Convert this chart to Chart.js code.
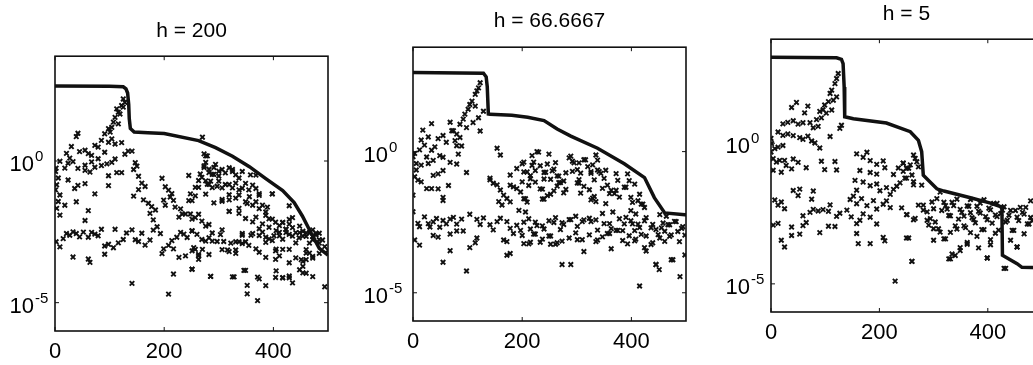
<!DOCTYPE html>
<html>
<head>
<meta charset="utf-8">
<script src="https://cdn.jsdelivr.net/npm/chart.js@4.4.1/dist/chart.umd.min.js"></script>
<style>
html, body { margin: 0; padding: 0; background: #fff; overflow: hidden; }
body { width: 1033px; height: 365px; position: relative; }
.panel { position: absolute; top: 0; height: 365px; }
</style>
</head>
<body>
<div class="panel" style="left:0;width:340px"><canvas id="chartH200"></canvas></div>
<div class="panel" style="left:345px;width:350px"><canvas id="chartH66"></canvas></div>
<div class="panel" style="left:700px;width:350px"><canvas id="chartH5"></canvas></div>
<script>
"use strict";

var titles = ['h = 200', 'h = 66.6667', 'h = 5'];
var xTicks = [0, 200, 400];
var yTicks = [1e-5, 1];

// all pairs below are [x, log10(y)]

var h200Line = [
    [0, 2.65], [100, 2.64], [125, 2.62], [130, 2.55], [133, 2.4], [135, 2.0], [136, 1.5], [138, 1.15],
    [145, 1.02], [170, 1.0], [200, 0.97], [263, 0.72], [294, 0.47], [325, 0.17], [356, -0.2],
    [386, -0.62], [417, -1.04], [438, -1.47], [453, -1.94], [469, -2.54], [484, -3.08], [500, -3.32]
];

var h200Dots = [
    [125, 2.19], [128, 2.07], [122, 1.96], [116, 1.72], [110, 1.54], [107, 1.37], [104, 1.19], [98, 1.14],
    [91, 0.96], [113, 1.84], [119, 1.66], [125, 1.9], [116, 1.31], [101, 1.02],
    [42, 0.98], [39, 0.86], [30, 0.51], [21, 0.27], [27, 0.1], [45, 0.33], [55, 0.38], [61, 0.26],
    [67, 0.2], [73, 0.55], [79, 0.49], [85, 0.73], [91, 0.31], [79, 0.08], [67, -0.03], [55, -0.15],
    [42, -0.26], [33, -0.02], [24, -0.08], [18, -0.25], [9, -0.01], [2, -0.25], [1, -0.37], [6, -0.6],
    [3, -0.84], [1, -1.02], [9, -1.2], [6, -1.43], [3, -1.67], [9, -1.91], [18, -1.56], [24, -0.67],
    [36, -0.97], [42, -0.86], [55, -0.33], [64, -0.39], [73, -0.22], [85, -0.16], [95, -0.1], [104, -0.05],
    [110, 0.07], [98, 0.66], [104, 0.78], [110, 0.6], [122, 0.65], [128, 0.24], [134, 0.35], [141, 0.35],
    [98, -0.52], [113, -0.41], [122, -0.41], [98, -0.87], [55, -0.8], [73, -1.16], [61, -1.75], [55, -2.1],
    [39, -1.44],
    [147, -0.06], [144, -0.3], [150, -0.18], [153, -0.54], [159, -0.78], [165, -0.9], [153, -1.01], [144, -1.24],
    [162, -1.37], [171, -1.49], [177, -1.61], [184, -1.73], [174, -1.85], [180, -2.08], [196, -0.61], [202, -0.91],
    [208, -1.03], [214, -1.15], [199, -1.38], [202, -1.56], [211, -1.27], [217, -1.39], [220, -1.63], [230, -1.69],
    [233, -1.87], [227, -1.98], [239, -1.87], [248, -1.87], [251, -2.05], [263, -1.88], [245, -1.4], [248, -1.16],
    [257, -0.93], [263, -0.69], [266, -0.46], [273, -0.23], [276, -0.05], [282, -0.29], [288, -0.47], [291, -0.23],
    [294, -0.12], [300, -0.36], [306, -0.3], [319, -0.24], [325, -0.3], [331, -0.49], [276, -0.7], [282, -0.82],
    [288, -0.94], [300, -0.71], [312, -0.83], [325, -0.95], [337, -1.02], [319, -1.19], [331, -1.31], [306, -1.42],
    [319, -1.78], [337, -1.67], [349, -1.44], [362, -1.56], [374, -1.68], [386, -1.8], [398, -1.16], [374, -1.15],
    [356, -1.26], [349, -0.79], [362, -0.85], [368, -0.97], [386, -1.92], [392, -2.04], [368, -0.5], [337, -0.6],
    [270, 0.84], [279, 0.18], [245, -0.51], [276, -1.17], [273, 0.25],
    [2, -2.85], [9, -3.03], [15, -2.74], [21, -2.56], [27, -2.62], [33, -2.5], [39, -2.56], [45, -2.68],
    [52, -2.51], [61, -2.69], [67, -2.52], [73, -2.58], [79, -2.64], [85, -2.41], [91, -3.0], [98, -2.94],
    [107, -3.06], [116, -2.89], [125, -2.77], [131, -2.54], [110, -2.41], [141, -2.43], [147, -2.78], [153, -2.84],
    [159, -2.55], [165, -2.97], [174, -2.79], [180, -2.44], [187, -2.32], [193, -2.56], [199, -3.1], [208, -2.98],
    [214, -2.81], [217, -3.1], [223, -2.69], [230, -2.52], [236, -2.58], [242, -2.7], [251, -2.47], [257, -3.12],
    [263, -3.3], [270, -3.12], [276, -2.83], [282, -2.71], [288, -2.54], [297, -2.84], [303, -2.6], [316, -3.14],
    [322, -2.9], [331, -3.14], [337, -2.85], [343, -2.62], [349, -2.85], [359, -2.62], [368, -3.1], [374, -2.63],
    [380, -2.51], [386, -2.87], [392, -2.75], [401, -2.64], [404, -3.17], [411, -2.52], [417, -2.76], [423, -2.41],
    [429, -2.23], [435, -2.65], [441, -2.89], [448, -2.53], [454, -2.65], [460, -3.13], [466, -2.9], [472, -2.66],
    [478, -2.55], [484, -2.9], [490, -2.79], [494, -3.02], [500, -3.15],
    [404, -2.16], [417, -2.17], [429, -2.06], [435, -2.0], [423, -2.53], [448, -2.3], [460, -2.54], [472, -2.43],
    [484, -2.55], [466, -3.25], [451, -3.48], [454, -3.72], [460, -3.48], [472, -3.37], [484, -3.26],
    [33, -3.39], [61, -3.46], [64, -3.58], [141, -4.32], [208, -4.7], [217, -3.99], [251, -3.82], [285, -4.07],
    [328, -4.09], [349, -3.86], [352, -4.39], [352, -4.69], [371, -4.93], [371, -4.1], [386, -4.4], [404, -4.11],
    [417, -4.12], [429, -4.12], [435, -4.3], [448, -3.84], [460, -3.96], [472, -4.08], [494, -4.44], [263, -3.47],
    [227, -3.4], [239, -3.35], [196, -3.27], [91, -3.29], [429, -3.59], [411, -3.35], [404, -3.47],
    [276, 0.18], [273, -0.17], [282, -0.41], [291, -0.47], [285, -0.71], [300, -0.53], [312, -0.42], [325, -0.37],
    [343, -0.37], [358, -0.49], [269, -0.58], [263, -0.93], [279, -0.82], [297, -0.89], [306, -0.95], [319, -0.83],
    [331, -0.78], [343, -0.96], [355, -1.02], [374, -1.21], [398, -1.16], [251, -1.4], [257, -1.23], [291, -1.48],
    [306, -1.36], [319, -1.37], [337, -1.2], [352, -1.5], [368, -1.44], [380, -1.56], [389, -1.63], [429, -1.58],
    [257, -2.0], [269, -2.12], [282, -2.24], [251, -2.46], [260, -2.59], [276, -2.3], [306, -2.43], [319, -1.78],
    [337, -1.85], [349, -2.03], [362, -2.15], [368, -1.98], [380, -2.22], [392, -2.34], [398, -2.05], [405, -2.46],
    [411, -2.28], [417, -2.17], [423, -2.41], [429, -2.59], [435, -2.35], [441, -2.53], [447, -2.71], [454, -2.48],
    [460, -2.66], [466, -2.54], [472, -2.78], [478, -2.61], [484, -2.78], [343, -2.56], [362, -2.56], [374, -2.39],
    [386, -2.69], [398, -2.81], [411, -2.64], [331, -2.85], [309, -2.84], [288, -2.83], [269, -2.77], [254, -3.06],
    [251, -3.17], [263, -3.35], [282, -3.3], [306, -3.13], [319, -3.2], [331, -3.26], [343, -2.91], [355, -2.98],
    [374, -3.22], [386, -3.4], [405, -3.11], [417, -3.12], [429, -3.12], [441, -3.42], [454, -3.54], [460, -3.25],
    [472, -3.43], [251, -3.82], [285, -4.07], [325, -4.09], [346, -3.86], [374, -4.16], [405, -3.88], [417, -4.12],
    [429, -4.06], [454, -3.95]
];

var h66Line = [
    [0, 2.8], [129, 2.78], [134, 2.65], [136, 2.3], [138, 1.33], [141, 1.32], [181, 1.29], [210, 1.22],
    [240, 1.1], [264, 0.8], [289, 0.55], [338, 0.12], [387, -0.43], [424, -0.92], [442, -1.63],
    [461, -2.17], [498, -2.24], [500, -2.24]
];

var h66Dots = [
    [123, 2.44], [120, 2.26], [114, 2.03], [117, 2.15], [108, 1.79], [104, 1.67], [101, 1.5], [114, 1.61],
    [95, 1.33], [92, 1.15], [86, 0.97], [98, 0.85], [110, 1.03], [120, 1.2], [123, 0.73], [129, 1.43],
    [80, 0.62], [74, 0.74],
    [34, 0.99], [18, 0.76], [15, 0.41], [21, 0.23], [28, 0.52], [34, 0.05], [40, 0.17], [46, 0.46],
    [55, 0.57], [61, 0.33], [68, 1.04], [71, 0.74], [77, 0.39], [80, 0.21], [86, 0.5], [89, 0.2],
    [83, -0.09], [55, -0.2], [49, -0.14], [37, -0.31], [25, -0.19], [12, 0.06], [3, -0.06], [0, -0.18],
    [6, -0.42], [15, -0.48], [28, -0.42], [37, -0.84], [46, -0.79], [55, -0.67], [68, -0.38], [80, -0.44],
    [98, -0.74], [6, -0.65], [3, -0.89], [9, -1.01], [15, -1.07], [25, -1.31], [34, -1.31], [46, -1.32],
    [55, -1.62], [65, -1.2], [0, -1.54], [55, -1.73],
    [0, -2.13], [9, -2.54], [12, -2.66], [3, -3.13], [12, -3.31], [21, -2.31], [28, -2.55], [31, -2.67],
    [37, -2.49], [43, -2.37], [49, -2.68], [55, -2.44], [61, -2.56], [68, -2.39], [74, -2.33], [80, -2.57],
    [89, -2.39], [37, -2.97], [46, -3.03], [68, -2.92], [80, -2.81], [92, -2.81], [104, -2.22], [117, -2.4],
    [123, -2.58], [129, -2.35], [104, -3.4], [114, -3.23], [117, -3.06], [98, -4.23], [55, -3.92], [68, -3.51],
    [154, 0.12], [160, -0.12], [141, -0.94], [147, -1.12], [154, -1.18], [160, -1.36], [166, -1.54], [172, -1.66],
    [157, -1.77], [163, -1.89], [178, -1.19], [184, -1.25], [190, -1.31], [197, -1.43], [178, -0.83], [190, -0.6],
    [203, -0.37], [209, -0.72], [215, -0.96], [227, 0.0], [233, -0.5], [240, -0.74], [240, -0.97], [233, -1.32],
    [240, -1.68], [246, -1.56], [252, -0.98], [258, -0.62], [264, -0.86], [270, -1.1], [276, -1.04], [264, -1.22],
    [258, -1.39], [276, -1.46], [289, -0.16], [295, -0.4], [301, -0.64], [307, -0.76], [313, -0.29], [320, -0.53],
    [326, -0.71], [332, -1.0], [338, -0.65], [344, -0.77], [350, -0.95], [356, -1.19], [363, -1.37], [369, -1.49],
    [326, -1.71], [332, -1.59], [313, -1.23], [301, -1.11], [375, -1.02], [387, -1.26], [393, -0.79], [399, -1.62],
    [412, -1.74], [418, -1.86], [424, -1.98], [399, -2.09], [406, -1.15], [338, -0.3], [221, -0.37], [203, -1.67],
    [209, -1.79], [215, -0.85], [178, -1.78], [141, -1.0],
    [141, -2.59], [147, -2.77], [154, -2.48], [160, -2.36], [172, -2.48], [178, -2.72], [184, -2.9], [166, -3.13],
    [172, -3.19], [190, -2.61], [197, -2.79], [203, -2.5], [215, -2.74], [221, -2.92], [227, -2.62], [240, -2.74],
    [252, -2.99], [258, -2.51], [270, -2.76], [276, -2.58], [289, -2.41], [301, -2.65], [313, -2.42], [326, -2.48],
    [338, -2.78], [350, -2.55], [356, -2.9], [363, -2.73], [375, -2.79], [387, -2.56], [399, -2.45], [406, -2.8],
    [412, -2.57], [418, -2.93], [424, -2.45], [436, -2.7], [449, -2.94], [455, -2.7], [461, -2.82], [467, -2.59],
    [473, -2.95], [479, -2.47], [485, -2.83], [492, -2.72], [498, -2.96], [424, -3.4], [436, -3.29], [203, -3.26],
    [215, -3.21], [233, -3.21], [252, -3.28], [264, -3.23], [301, -3.12], [313, -3.54], [338, -3.13], [363, -3.44],
    [393, -3.27], [406, -3.16], [461, -3.18],
    [172, -3.67], [178, -3.61], [289, -4.0], [415, -4.76], [445, -4.0], [451, -4.18], [473, -3.83], [489, -4.43],
    [498, -3.66],
    [218, -0.14], [230, -0.02], [249, -0.09], [200, -0.43], [218, -0.49], [246, -0.44], [261, -0.39], [286, -0.22],
    [292, -0.34], [304, -0.4], [316, -0.29], [335, -0.12], [329, -0.47], [203, -0.72], [224, -0.67], [243, -0.73],
    [255, -0.68], [267, -0.87], [280, -0.75], [292, -0.7], [304, -0.99], [326, -0.77], [341, -0.71], [353, -0.66],
    [372, -0.78], [200, -1.07], [212, -1.2], [224, -1.08], [237, -1.33], [252, -1.51], [267, -1.1], [280, -1.34],
    [304, -1.11], [323, -1.35], [347, -1.3], [360, -1.49], [372, -1.37], [390, -1.26], [378, -1.61], [335, -1.77],
    [353, -1.84], [329, -1.65], [206, -1.67], [237, -1.68], [307, -1.47], [396, -1.03], [415, -1.51], [421, -1.86],
    [402, -1.8],
    [194, -2.08], [206, -2.14], [212, -2.38], [224, -2.5], [237, -2.63], [249, -2.45], [261, -2.34], [273, -2.52],
    [286, -2.41], [298, -2.29], [310, -2.48], [323, -2.36], [335, -2.42], [347, -2.19], [360, -2.55], [366, -2.14],
    [378, -2.38], [384, -2.8], [390, -2.33], [402, -2.56], [408, -2.21], [415, -2.69], [427, -2.34], [439, -2.58],
    [445, -2.76], [458, -2.53], [470, -2.59], [482, -2.48], [494, -2.66], [452, -2.23], [464, -2.29],
    [200, -2.97], [212, -3.27], [224, -2.92], [237, -3.1], [249, -2.99], [261, -3.28], [273, -3.17], [286, -3.06],
    [298, -2.88], [310, -3.12], [323, -2.95], [335, -3.19], [347, -3.02], [360, -2.9], [372, -2.79], [384, -3.15],
    [396, -2.98], [408, -3.1], [427, -2.99], [439, -3.23], [452, -3.06], [470, -3.0], [488, -3.19], [427, -3.52],
    [445, -4.0], [476, -3.83], [273, -4.0]
];

var h5Line = [
    [0, 3.06], [121, 3.04], [130, 2.98], [133, 2.83], [135, 2.0], [136, 0.94], [152, 0.87], [213, 0.72],
    [257, 0.41], [272, 0.1], [278, -0.3], [281, -1.14], [306, -1.62], [319, -1.7], [368, -1.94],
    [405, -2.13], [426, -2.27], [427, -3.98], [454, -4.28], [463, -4.41], [500, -4.43]
];

var h5Dots = [
    [124, 2.48], [121, 2.3], [118, 2.12], [112, 1.89], [109, 1.77], [121, 1.65], [115, 1.53], [106, 1.48],
    [99, 1.36], [96, 1.19], [90, 1.13], [102, 1.07], [112, 1.18], [93, 0.9], [84, 0.84], [72, 0.73],
    [87, 0.6], [78, 0.55], [130, 0.64], [127, 0.53], [109, 0.24], [62, 1.08], [68, 1.32], [47, 1.45],
    [38, 1.27],
    [22, 0.69], [31, 0.74], [41, 0.8], [50, 0.68], [59, 0.73], [13, 0.4], [22, 0.28], [31, 0.33],
    [41, 0.27], [53, 0.2], [59, 0.14], [68, 0.25], [75, 0.08], [81, 0.01], [90, -0.17], [0, 0.17],
    [1, -0.01], [7, -0.19], [13, -0.14], [22, -0.08], [0, -0.31], [4, -0.55], [10, -0.67], [25, -0.61],
    [16, -0.61], [41, -0.56], [50, -0.68], [28, -0.79], [38, -0.91], [65, -0.87], [93, -0.64], [99, -0.94],
    [118, -0.65], [121, -0.95], [4, -0.96], [19, -1.03],
    [7, -2.02], [13, -2.2], [19, -2.09], [25, -2.33], [4, -2.91], [13, -2.85], [19, -3.45], [25, -3.69],
    [41, -1.68], [53, -1.63], [50, -1.86], [78, -1.7], [38, -2.98], [53, -3.23], [38, -3.28], [65, -2.82],
    [59, -2.58], [72, -2.46], [78, -2.35], [87, -2.41], [96, -2.36], [75, -1.99], [90, -3.18], [59, -2.93],
    [106, -2.42], [109, -2.19], [121, -2.6], [127, -2.49], [118, -2.96], [106, -2.95],
    [158, -0.38], [170, -0.5], [177, -0.32], [183, -0.62], [195, -0.75], [207, -0.63], [210, -0.87], [195, -1.1],
    [183, -1.04], [164, -0.97], [155, -1.32], [158, -1.67], [170, -1.38], [183, -1.51], [195, -1.45], [201, -1.69],
    [213, -1.58], [220, -1.82], [226, -1.64], [232, -1.53], [238, -1.41], [244, -1.0], [250, -0.89], [257, -0.77],
    [263, -0.42], [269, -0.66], [250, -1.24], [263, -1.48], [244, -0.71], [235, -0.88], [226, -1.11],
    [146, -2.0], [152, -1.88], [158, -2.15], [167, -1.97], [177, -2.22], [189, -2.04], [195, -2.34], [207, -2.17],
    [213, -2.05], [220, -2.29], [140, -2.38], [148, -2.62], [158, -2.86], [164, -2.74], [170, -2.51], [183, -2.63],
    [158, -3.21], [161, -3.57], [183, -3.57], [207, -3.35], [210, -3.47], [195, -2.87], [250, -3.37], [229, -4.9],
    [260, -4.2], [250, -2.54], [263, -2.72],
    [281, -2.2], [288, -2.44], [294, -2.68], [300, -2.33], [306, -1.97], [312, -1.74], [319, -2.1], [325, -2.34],
    [331, -2.58], [337, -2.22], [343, -1.99], [349, -2.35], [356, -2.59], [362, -2.23], [368, -2.47], [374, -2.71],
    [380, -2.24], [386, -2.48], [393, -2.01], [399, -2.72], [405, -2.37], [411, -2.14], [417, -2.61], [424, -2.5],
    [430, -2.26], [436, -2.74], [442, -2.39], [448, -3.1], [454, -2.63], [460, -2.28], [467, -2.52], [473, -2.87],
    [479, -2.05], [482, -2.76], [300, -3.04], [312, -3.16], [319, -3.4], [331, -3.17], [343, -3.05], [356, -2.94],
    [368, -3.18], [380, -3.31], [393, -3.07], [405, -3.43], [414, -3.2], [454, -3.69], [442, -3.45], [467, -3.22],
    [331, -4.11], [340, -3.99], [349, -3.82], [362, -3.53], [399, -4.08], [430, -4.45], [368, -2.0], [386, -2.13],
    [417, -2.14],
    [241, -2.3], [251, -2.54], [266, -2.67], [272, -2.2], [281, -2.38], [288, -2.74], [291, -2.91], [297, -2.09],
    [303, -2.8], [309, -3.04], [315, -2.39], [322, -2.22], [328, -2.57], [334, -2.1], [340, -2.94], [346, -2.7],
    [352, -2.46], [359, -3.0], [365, -2.24], [371, -2.65], [377, -2.83], [383, -2.42], [389, -3.07], [396, -2.61],
    [402, -2.31], [408, -2.84], [414, -2.55], [420, -3.09], [427, -2.38], [433, -2.8], [439, -2.56], [445, -3.1],
    [451, -2.39], [457, -2.75], [464, -2.46], [470, -2.28], [476, -2.87], [479, -2.64],
    [244, -0.71], [254, -0.89], [260, -1.13], [266, -0.54], [272, -0.84], [247, -1.24], [278, -1.49], [263, -1.37],
    [254, -3.37], [300, -3.45], [322, -3.4], [349, -3.71], [362, -3.59], [383, -3.72], [405, -3.61], [334, -3.94],
    [328, -4.11], [399, -4.08], [454, -3.69], [260, -4.2], [433, -4.45]
];

// where each panel's plot box sits inside its canvas
var panelBoxes = [
    { yWidth: 55, xHeight: 34, padRight: 12, titleTop: 19, titleBottom: 12, labelGap: 21 },
    { yWidth: 68, xHeight: 44, padRight: 9, titleTop: 9, titleBottom: 13, labelGap: 25 },
    { yWidth: 71, xHeight: 53, padRight: 8, titleTop: 2, titleBottom: 12, labelGap: 21 }
];

var ink = '#111';
var fontFamily = '"Liberation Sans", Arial, Helvetica, sans-serif';

function toPoints(pairs) {
    return pairs.map(function (p) {
        return { x: p[0], y: Math.pow(10, p[1]) };
    });
}

var framePlugin = {
    id: 'frame',
    afterDraw: function (chart) {
        var a = chart.chartArea;
        var ctx = chart.ctx;
        var xs = chart.scales.x, ys = chart.scales.y;
        ctx.save();
        ctx.strokeStyle = ink;
        ctx.lineWidth = 1.6;
        ctx.strokeRect(a.left, a.top, a.right - a.left, a.bottom - a.top);
        ctx.lineWidth = 1;
        ctx.beginPath();
        xTicks.forEach(function (v) {
            var px = xs.getPixelForValue(v);
            ctx.moveTo(px, a.bottom); ctx.lineTo(px, a.bottom - 4);
            ctx.moveTo(px, a.top); ctx.lineTo(px, a.top + 4);
        });
        yTicks.forEach(function (v) {
            var py = ys.getPixelForValue(v);
            ctx.moveTo(a.left, py); ctx.lineTo(a.left + 4, py);
            ctx.moveTo(a.right, py); ctx.lineTo(a.right - 4, py);
        });
        ctx.stroke();
        ctx.restore();
    }
};

// y tick labels as 10 with a raised exponent, like the original axes
var powerLabelPlugin = {
    id: 'powerLabels',
    afterDraw: function (chart, args, opts) {
        var ctx = chart.ctx;
        var ys = chart.scales.y;
        var baseRight = chart.chartArea.left - opts.gap;
        ctx.save();
        ctx.fillStyle = '#000';
        ctx.textBaseline = 'alphabetic';
        yTicks.forEach(function (v) {
            var py = ys.getPixelForValue(v);
            var exp = String(Math.round(Math.log10(v)));
            ctx.font = '22px ' + fontFamily;
            ctx.textAlign = 'right';
            ctx.fillText('10', baseRight, py + 10);
            ctx.font = '15px ' + fontFamily;
            ctx.textAlign = 'left';
            ctx.fillText(exp, baseRight + 1, py);
        });
        ctx.restore();
    }
};

function makeChart(elemId, title, line, dots, box) {
    return new Chart(document.getElementById(elemId), {
        type: 'scatter',
        data: {
            datasets: [{
                data: toPoints(line),
                showLine: true,
                borderColor: ink,
                borderWidth: 3.5,
                pointRadius: 0,
                tension: 0
            }, {
                data: toPoints(dots),
                showLine: false,
                pointStyle: 'crossRot',
                pointRadius: 3.2,
                borderColor: ink,
                pointBorderColor: ink,
                pointBorderWidth: 1.9
            }]
        },
        options: {
            responsive: true,
            maintainAspectRatio: false,
            animation: false,
            layout: { padding: { left: 0, top: 0, bottom: 0, right: box.padRight } },
            plugins: {
                legend: { display: false },
                tooltip: { enabled: false },
                powerLabels: { gap: box.labelGap },
                title: {
                    display: true,
                    text: title,
                    fullSize: false,
                    color: '#000',
                    font: { family: fontFamily, size: 21, weight: 'normal' },
                    padding: { top: box.titleTop, bottom: box.titleBottom }
                }
            },
            scales: {
                x: {
                    type: 'linear',
                    min: 0,
                    max: 500,
                    grid: { display: false, drawTicks: false },
                    border: { display: false },
                    afterBuildTicks: function (scale) {
                        scale.ticks = xTicks.map(function (v) { return { value: v }; });
                    },
                    afterFit: function (scale) { scale.height = box.xHeight; },
                    ticks: {
                        color: '#000',
                        font: { family: fontFamily, size: 22 },
                        padding: 8,
                        maxRotation: 0,
                        autoSkip: false
                    }
                },
                y: {
                    type: 'logarithmic',
                    min: 1e-6,
                    max: 5e3,
                    grid: { display: false, drawTicks: false },
                    border: { display: false },
                    afterBuildTicks: function (scale) {
                        scale.ticks = yTicks.map(function (v) { return { value: v }; });
                    },
                    afterFit: function (scale) { scale.width = box.yWidth; },
                    ticks: { display: false }
                }
            }
        },
        plugins: [framePlugin, powerLabelPlugin]
    });
}

var chartH200 = makeChart('chartH200', titles[0], h200Line, h200Dots, panelBoxes[0]);
var chartH66 = makeChart('chartH66', titles[1], h66Line, h66Dots, panelBoxes[1]);
var chartH5 = makeChart('chartH5', titles[2], h5Line, h5Dots, panelBoxes[2]);
</script>
</body>
</html>
